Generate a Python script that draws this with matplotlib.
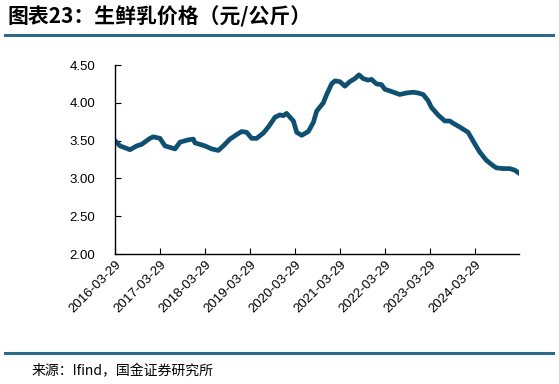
import matplotlib.pyplot as plt
from matplotlib.lines import Line2D
import pandas as pd

plt.rcParams['font.family'] = ['Liberation Sans', 'Noto Sans CJK SC', 'DejaVu Sans']

# 生鲜乳价格（元/公斤），读自原图
dates = ["2016-03-29", "2016-05-09", "2016-07-29", "2016-09-21", "2016-10-31",
         "2017-01-07", "2017-02-03", "2017-03-29", "2017-05-09", "2017-07-29",
         "2017-09-08", "2017-11-14", "2017-12-25", "2018-01-07", "2018-02-17",
         "2018-03-29", "2018-05-23", "2018-07-16", "2018-08-25", "2018-10-18",
         "2018-12-12", "2019-01-21", "2019-03-03", "2019-04-12", "2019-05-23",
         "2019-07-16", "2019-08-26", "2019-10-19", "2019-11-28", "2019-12-25",
         "2020-01-21", "2020-02-17", "2020-03-16", "2020-04-12", "2020-05-22",
         "2020-07-15", "2020-08-25", "2020-09-21", "2020-11-14", "2020-12-11",
         "2021-01-20", "2021-02-16", "2021-03-28", "2021-05-08", "2021-06-17",
         "2021-07-28", "2021-08-30", "2021-10-04", "2021-11-13", "2021-12-10",
         "2022-01-20", "2022-03-01", "2022-03-28", "2022-05-21", "2022-07-27",
         "2022-09-19", "2022-11-13", "2022-12-23", "2023-02-02", "2023-03-14",
         "2023-04-10", "2023-06-03", "2023-07-28", "2023-09-06", "2023-10-03",
         "2023-11-26", "2024-02-02", "2024-03-26", "2024-05-06", "2024-06-29",
         "2024-08-22", "2024-09-18", "2024-11-11", "2025-01-04", "2025-02-14",
         "2025-03-21"]
price = [3.50, 3.43, 3.38, 3.43, 3.45,
         3.53, 3.55, 3.53, 3.43, 3.39,
         3.48, 3.51, 3.52, 3.47, 3.45,
         3.43, 3.39, 3.37, 3.43, 3.52,
         3.58, 3.62, 3.61, 3.53, 3.53,
         3.60, 3.68, 3.81, 3.84, 3.83,
         3.86, 3.81, 3.76, 3.61, 3.57,
         3.62, 3.74, 3.89, 4.00, 4.11,
         4.25, 4.29, 4.28, 4.22, 4.28,
         4.32, 4.37, 4.32, 4.30, 4.31,
         4.25, 4.24, 4.18, 4.15, 4.11,
         4.13, 4.14, 4.13, 4.11, 4.03,
         3.94, 3.84, 3.76, 3.76, 3.73,
         3.68, 3.61, 3.46, 3.35, 3.24,
         3.17, 3.14, 3.13, 3.13, 3.11,
         3.07]
tick_dates = ["2016-03-29", "2017-03-29", "2018-03-29", "2019-03-29", "2020-03-29",
              "2021-03-29", "2022-03-29", "2023-03-29", "2024-03-29"]
y_ticks = [2.0, 2.5, 3.0, 3.5, 4.0, 4.5]

x = pd.to_datetime(dates)
ticks = pd.to_datetime(tick_dates)

fig = plt.figure(figsize=(5.59, 3.84), dpi=100)
ax = fig.add_axes([0.2057, 0.3385, 0.7227, 0.4922])

ax.plot(x, price, color='#0e4f72', linewidth=3.4, solid_joinstyle='round')

ax.set_xlim(x[0], x[-1])
ax.set_ylim(2.0, 4.5)
ax.set_yticks(y_ticks)
ax.set_yticklabels([f"{v:.2f}" for v in y_ticks], fontsize=9.5)
ax.set_xticks(ticks)
ax.set_xticklabels(tick_dates, rotation=45, ha='right', rotation_mode='anchor', fontsize=9.5)
ax.tick_params(direction='in', length=4, width=0.8, colors='black', pad=3)
ax.tick_params(axis='y', pad=14)
for s in ['top', 'right']:
    ax.spines[s].set_visible(False)
for s in ['left', 'bottom']:
    ax.spines[s].set_linewidth(1.0)

fig.text(0.014, 0.955, "图表23：生鲜乳价格（元/公斤）", fontsize=15, fontweight='bold',
         family=['Noto Sans CJK SC', 'DejaVu Sans'], va='center', ha='left')
fig.add_artist(Line2D([0.009, 0.99], [1 - 35 / 384, 1 - 35 / 384], color='#2d6a8c', linewidth=2.2,
                      transform=fig.transFigure))
fig.add_artist(Line2D([0.009, 0.99], [1 - 353 / 384, 1 - 353 / 384], color='#2d6a8c', linewidth=2.2,
                      transform=fig.transFigure))
fig.text(0.057, 1 - 371 / 384, "来源：Ifind，国金证券研究所", fontsize=10,
         family=['Noto Sans CJK SC', 'DejaVu Sans'], va='center', ha='left')

fig.savefig("out.png", dpi=100)
